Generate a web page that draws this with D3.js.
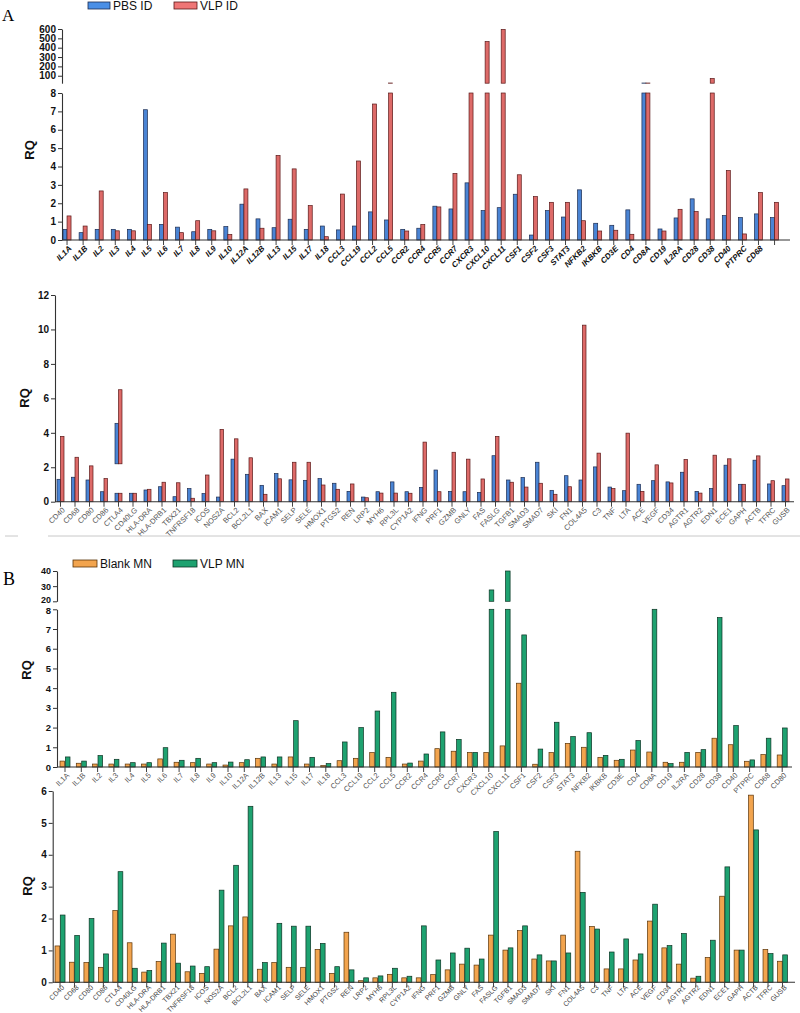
<!DOCTYPE html>
<html><head><meta charset="utf-8">
<script src="https://cdn.jsdelivr.net/npm/d3@7"></script>
<style>
body{margin:0;background:#fff;}
svg{display:block;font-family:"Liberation Sans",Arial,sans-serif;}
</style></head><body>
<svg id="c" width="800" height="1013"></svg>
<script>
// ---------- DATA ----------
const aTopCats = ["IL1A","IL1B","IL2","IL3","IL4","IL5","IL6","IL7","IL8","IL9","IL10","IL12A","IL12B","IL13","IL15","IL17","IL18","CCL3","CCL19","CCL2","CCL5","CCR2","CCR4","CCR5","CCR7","CXCR3","CXCL10","CXCL11","CSF1","CSF2","CSF3","STAT3","NFKB2","IKBKB","CD3E","CD4","CD8A","CD19","IL2RA","CD28","CD38","CD40","PTPRC","CD68",""];
const aTopPBS = [0.58,0.4,0.58,0.58,0.58,7.09,0.85,0.7,0.45,0.58,0.73,1.95,1.15,0.67,1.13,0.58,0.76,0.55,0.76,1.53,1.09,0.58,0.64,1.84,1.69,3.11,1.6,1.76,2.49,0.27,1.6,1.25,2.73,0.91,0.8,1.64,22,0.6,1.2,2.24,1.15,1.33,1.22,1.42,1.22];
const aTopVLP = [1.31,0.76,2.67,0.5,0.5,0.85,2.58,0.4,1.05,0.5,0.3,2.78,0.64,4.6,3.87,1.87,0.18,2.5,4.3,7.4,22,0.49,0.84,1.8,3.62,12,465,595,3.55,2.36,2.05,2.05,1.05,0.49,0.53,0.31,22,0.49,1.67,1.55,70,3.78,0.33,2.58,2.05];
const aTopLowTicks = [0,1,2,3,4,5,6,7,8];
const aTopHighTicks = [100,200,300,400,500,600];

const botCats = ["CD40","CD68","CD80","CD86","CTLA4","CD40LG","HLA-DRA","HLA-DRB1","TBX21","TNFRSF18","ICOS","NOS2A","BCL2","BCL2L1","BAX","ICAM1","SELP","SELE","HMOX1","PTGS2","REN","LRP2","MYH6","RPL3L","CYP1A2","IFNG","PRF1","GZMB","GNLY","FAS","FASLG","TGFB1","SMAD3","SMAD7","SKI","FN1","COL4A5","C3","TNF","LTA","ACE","VEGF","CD34","AGTR1","AGTR2","EDN1","ECE1","GAPH","ACTB","TFRC","GUSB"];
const aBotPBS = [1.3,1.42,1.26,0.58,0.49,0.49,0.68,0.87,0.29,0.76,0.47,0.27,2.47,1.59,0.95,1.63,1.27,1.24,1.34,1.07,0.6,0.27,0.58,1.15,0.58,0.83,1.84,0.6,0.58,0.54,2.67,1.26,1.4,2.29,0.66,1.51,1.26,2.02,0.85,0.64,1.01,1.22,1.15,1.71,0.6,0.76,2.12,1.01,2.41,1.03,0.93];
const aBotVLP = [3.79,2.58,2.08,1.34,0.49,0.49,0.72,1.13,1.1,0.2,1.55,4.2,3.65,2.55,0.43,1.33,2.29,2.29,0.97,0.72,1.03,0.23,0.5,0.5,0.49,3.46,0.58,2.87,2.47,1.32,3.79,1.13,0.85,1.07,0.43,0.87,10.25,2.82,0.76,3.98,0.6,2.14,1.09,2.45,0.5,2.7,2.49,1.01,2.66,1.22,1.32];
// floating segment drawn over CTLA4 in panel A (lower plot)
const aBotFloat = [{cat:"CTLA4", base:2.2, pbs:4.55, vlp:6.5}];
const aBotTicks = [0,2,4,6,8,10,12];

const bTopCats = ["IL1A","IL1B","IL2","IL3","IL4","IL5","IL6","IL7","IL8","IL9","IL10","IL12A","IL12B","IL13","IL15","IL17","IL18","CCL3","CCL19","CCL2","CCL5","CCR2","CCR4","CCR5","CCR7","CXCR3","CXCL10","CXCL11","CSF1","CSF2","CSF3","STAT3","NFKB2","IKBKB","CD3E","CD4","CD8A","CD19","IL2RA","CD28","CD38","CD40","PTPRC","CD68","CD80"];
const bTopBlank = [0.3,0.19,0.15,0.15,0.15,0.15,0.41,0.24,0.22,0.15,0.1,0.22,0.44,0.15,0.51,0.15,0.07,0.32,0.44,0.73,0.49,0.15,0.3,0.93,0.8,0.74,0.74,1.07,4.25,0.14,0.73,1.2,1.0,0.49,0.34,0.86,0.76,0.24,0.24,0.74,1.46,1.13,0.29,0.63,0.61];
const bTopVLP = [0.51,0.3,0.58,0.39,0.22,0.22,0.98,0.34,0.44,0.22,0.25,0.37,0.51,0.51,2.35,0.49,0.17,1.27,2.0,2.84,3.79,0.2,0.66,1.78,1.4,0.74,27.5,40,6.7,0.91,2.27,1.54,1.74,0.59,0.39,1.34,9,0.17,0.74,0.88,7.58,2.1,0.36,1.46,1.98];
const bTopLowTicks = [0,1,2,3,4,5,6,7,8];
const bTopHighTicks = [20,30,40];

const bBotBlank = [1.14,0.63,0.62,0.47,2.25,1.24,0.32,0.65,1.51,0.33,0.28,1.04,1.77,2.05,0.41,0.62,0.47,0.47,1.03,0.28,1.57,0.05,0.14,0.25,0.14,0.14,0.24,0.39,0.57,0.54,1.48,1.01,1.62,0.73,0.67,1.48,4.11,1.75,0.42,0.42,0.7,1.92,1.08,0.57,0.13,0.78,2.7,1.01,5.87,1.03,0.66];
const bBotVLP = [2.11,1.47,2.0,0.89,3.47,0.44,0.37,1.23,0.6,0.51,0.49,2.89,3.67,5.52,0.62,1.85,1.76,1.76,1.22,0.49,0.39,0.14,0.2,0.44,0.19,1.77,0.7,0.92,1.07,0.73,4.73,1.08,1.77,0.86,0.67,0.92,2.82,1.67,0.95,1.36,0.89,2.45,1.15,1.53,0.19,1.32,3.62,1.01,4.78,0.9,0.86];
const bBotTicks = [0,1,2,3,4,5,6];

const seriesA = ["PBS ID","VLP ID"];
const seriesB = ["Blank MN","VLP MN"];

// ---------- STYLE ----------
const COL = {
  blue:"#4a84d4", blueS:"#1c2c50",
  red:"#dd6a68", redS:"#5a1818",
  orange:"#f2a44e", orangeS:"#5a3408",
  green:"#1ea270", greenS:"#0b3323"
};
const svg = d3.select("#c");
const FONT = '"Liberation Sans",Arial,sans-serif';

function drawPanel(o){
  const g = svg.append("g");
  const idx = o.cats.map((_,i)=>i);
  const x = d3.scaleBand().domain(idx).range(o.xRange).padding(0);
  const x1 = d3.scaleBand().domain([0,1]).range(o.pair).paddingInner(o.pairPad||0);
  const cx = i => x(i) + x.bandwidth()/2;

  o.segs.forEach(seg=>{
    seg.y = d3.scaleLinear().domain(seg.domain).range(seg.range);
    const ax = d3.axisLeft(seg.y).tickValues(seg.ticks).tickFormat(d3.format("d"))
      .tickSize(4).tickSizeOuter(0).tickPadding(2);
    const ag = g.append("g").attr("transform",`translate(${o.axisX},0)`).call(ax);
    ag.select(".domain").attr("stroke","#333").attr("stroke-width",1.1);
    ag.selectAll(".tick line").attr("stroke","#333").attr("stroke-width",1);
    ag.selectAll(".tick text").attr("font-family",FONT).attr("font-weight","bold")
      .attr("font-size",seg.font||10).attr("fill","#111");
    if(seg.nudge) ag.selectAll(".tick text").filter(seg.nudge.f).attr("y",seg.nudge.dy);
  });

  const vals = [o.v1,o.v2];
  const fills = [o.c1,o.c2], strokes=[o.s1,o.s2];
  o.segs.forEach(seg=>{
    const [d0,d1] = seg.domain;
    [0,1].forEach(k=>{
      g.append("g").selectAll("rect").data(idx.filter(i=>vals[k][i]>d0)).join("rect")
        .attr("x",i=>cx(i)+x1(k))
        .attr("width",x1.bandwidth())
        .attr("y",i=>seg.y(Math.min(vals[k][i],d1)))
        .attr("height",i=>seg.y(d0)-seg.y(Math.min(vals[k][i],d1)))
        .attr("fill",fills[k]).attr("stroke",strokes[k]).attr("stroke-width",0.7);
    });
  });
  if(o.floats){
    const seg=o.segs[0];
    o.floats.forEach(f=>{
      const i=o.cats.indexOf(f.cat);
      [[0,f.pbs],[1,f.vlp]].forEach(([k,v])=>{
        g.append("rect").attr("x",cx(i)+x1(k)).attr("width",x1.bandwidth())
          .attr("y",seg.y(v)).attr("height",seg.y(f.base)-seg.y(v))
          .attr("fill",fills[k]).attr("stroke",strokes[k]).attr("stroke-width",0.7);
      });
    });
  }

  const y0 = o.segs[0].y(0);
  const xa = d3.axisBottom(x).tickFormat(i=>o.cats[i]).tickSize(5).tickSizeOuter(0);
  const xg = g.append("g").attr("transform",`translate(0,${y0})`).call(xa);
  xg.select(".domain").remove();
  xg.selectAll(".tick line").attr("stroke","#444").attr("stroke-width",1);
  xg.selectAll(".tick text")
    .attr("x",0).attr("y",0).attr("dy","0.35em")
    .attr("text-anchor","end")
    .attr("transform",`translate(${o.lblDx},${o.lblDy}) rotate(-45)`)
    .attr("font-family",FONT).attr("font-size",o.lblFont)
    .attr("font-weight",o.lblBold?"bold":"normal")
    .attr("font-style",o.lblItalic?"italic":"normal")
    .attr("fill",o.lblColor);
  g.append("line").attr("x1",o.axisX).attr("x2",o.xEnd).attr("y1",y0).attr("y2",y0)
    .attr("stroke","#333").attr("stroke-width",1.1);

  g.append("text").attr("transform",`translate(${o.rqX},${o.rqY}) rotate(-90)`)
    .attr("text-anchor","middle").attr("font-family",FONT).attr("font-weight","bold")
    .attr("font-size",13).attr("fill","#111").text("RQ");
}

function legend(items, y){
  items.forEach(it=>{
    svg.append("rect").attr("x",it.x).attr("y",y).attr("width",it.w).attr("height",7)
      .attr("fill",it.c).attr("stroke",it.s).attr("stroke-width",0.8);
    svg.append("text").attr("x",it.x+it.w+3).attr("y",y+7.5).attr("font-family",FONT)
      .attr("font-size",12).attr("fill","#111").text(it.t);
  });
}

svg.append("text").attr("x",2).attr("y",21).attr("font-family","Liberation Serif,Times New Roman,serif")
  .attr("font-size",17).text("A");
legend([{x:88,w:22,c:"#4a8fe6",s:"#1c2c50",t:seriesA[0]},{x:174,w:23,c:"#ef7676",s:"#5a1818",t:seriesA[1]}],2);

drawPanel({
  cats:aTopCats, v1:aTopPBS, v2:aTopVLP, c1:COL.blue, s1:COL.blueS, c2:COL.red, s2:COL.redS,
  xRange:[59,782.6], pair:[-4,4], axisX:62, xEnd:790,
  segs:[{domain:[0,8],range:[240,93],ticks:aTopLowTicks},{domain:[20,600],range:[83.2,29],ticks:aTopHighTicks}],
  lblDx:3, lblDy:7, lblFont:8, lblBold:true, lblItalic:true, lblColor:"#111",
  rqX:34, rqY:150
});

drawPanel({
  cats:botCats, v1:aBotPBS, v2:aBotVLP, c1:COL.blue, s1:COL.blueS, c2:COL.red, s2:COL.redS,
  floats:aBotFloat,
  xRange:[53.25,792.75], pair:[-3.5,3.5], axisX:55, xEnd:794,
  segs:[{domain:[0,12],range:[501.7,295],ticks:aBotTicks}],
  lblDx:3, lblDy:7, lblFont:7.5, lblBold:false, lblItalic:false, lblColor:"#555",
  rqX:29, rqY:398
});

svg.append("line").attr("x1",48).attr("x2",800).attr("y1",536).attr("y2",536).attr("stroke","#c8c8c8").attr("stroke-width",1);
svg.append("line").attr("x1",5).attr("x2",18).attr("y1",536).attr("y2",536).attr("stroke","#c8c8c8").attr("stroke-width",1);

svg.append("text").attr("x",3).attr("y",585).attr("font-family","Liberation Serif,Times New Roman,serif")
  .attr("font-size",18).text("B");
legend([{x:73,w:24,c:COL.orange,s:COL.orangeS,t:seriesB[0]},{x:173,w:24,c:COL.green,s:COL.greenS,t:seriesB[1]}],560);

drawPanel({
  cats:bTopCats, v1:bTopBlank, v2:bTopVLP, c1:COL.orange, s1:COL.orangeS, c2:COL.green, s2:COL.greenS,
  xRange:[56.85,790.35], pair:[-5,5], pairPad:0.15, axisX:57, xEnd:792,
  segs:[{domain:[0,8],range:[767,609.3],ticks:bTopLowTicks,font:9.5,nudge:{f:d=>d===8,dy:1.5}},
        {domain:[20,40],range:[601.3,571],ticks:bTopHighTicks,font:9,nudge:{f:d=>d===20,dy:-1.5}}],
  lblDx:3, lblDy:7, lblFont:7.5, lblBold:false, lblItalic:false, lblColor:"#555",
  rqX:31, rqY:670
});

drawPanel({
  cats:botCats, v1:bBotBlank, v2:bBotVLP, c1:COL.orange, s1:COL.orangeS, c2:COL.green, s2:COL.greenS,
  xRange:[52.8,789.7], pair:[-5,5], pairPad:0.1, axisX:52.7, xEnd:795,
  segs:[{domain:[0,6],range:[982.3,791],ticks:bBotTicks}],
  lblDx:3, lblDy:4, lblFont:7, lblBold:false, lblItalic:false, lblColor:"#444",
  rqX:32, rqY:886
});
</script></body></html>
